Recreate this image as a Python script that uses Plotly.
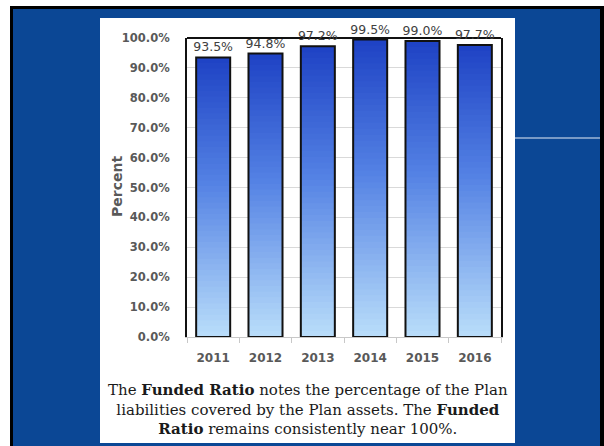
import plotly.graph_objects as go

years = ["2011", "2012", "2013", "2014", "2015", "2016"]
funded_ratio = [93.5, 94.8, 97.2, 99.5, 99.0, 97.7]
y_ticks = [0, 10, 20, 30, 40, 50, 60, 70, 80, 90, 100]
y_tick_labels = [f"{t:.1f}%" for t in y_ticks]

W, H = 604, 446
L, R, T, B = 187, 103, 38, 109
PW, PH = W - L - R, H - T - B

def px(x):
    return (x - L) / PW

def py(y):
    return (H - B - y) / PH

# vertical gradient (top -> bottom)
stops = [(0.0, (30, 66, 196)), (0.45, (84, 130, 228)), (1.0, (186, 222, 250))]

def grad(f):
    for (a, ca), (b, cb) in zip(stops[:-1], stops[1:]):
        if a <= f <= b:
            t = (f - a) / (b - a)
            c = [round(ca[i] + (cb[i] - ca[i]) * t) for i in range(3)]
            return f"rgb({c[0]},{c[1]},{c[2]})"
    return "rgb(186,222,250)"

N = 50
BW = 0.65
fig = go.Figure()
for k in range(N):
    top_frac = 1 - k / N
    fig.add_trace(go.Bar(
        x=years,
        y=[v * top_frac for v in funded_ratio],
        width=BW,
        marker=dict(color=grad((k + 0.5) / N), line=dict(width=0)),
        showlegend=False, hoverinfo="skip",
    ))

fig.add_trace(go.Bar(
    x=years, y=funded_ratio, width=BW,
    marker=dict(color="rgba(0,0,0,0)", line=dict(color="#111111", width=2)),
    text=[f"{v:.1f}%" for v in funded_ratio],
    textposition="outside", cliponaxis=False, constraintext="none",
    textfont=dict(family="DejaVu Sans", size=12.5, color="#404040"),
    showlegend=False,
))

shapes = [
    dict(type="rect", xref="paper", yref="paper", x0=px(10), x1=px(604), y0=py(446), y1=py(6),
         fillcolor="#000000", line=dict(width=0), layer="below"),
    dict(type="rect", xref="paper", yref="paper", x0=px(13), x1=px(600), y0=py(446), y1=py(9),
         fillcolor="#0b4795", line=dict(width=0), layer="below"),
    dict(type="rect", xref="paper", yref="paper", x0=px(100), x1=px(515), y0=py(443), y1=py(18),
         fillcolor="#ffffff", line=dict(width=0), layer="below"),
    dict(type="line", xref="paper", yref="paper", x0=px(515), x1=px(600), y0=py(138), y1=py(138),
         line=dict(color="#e8eef8", width=1.2)),
    dict(type="line", xref="paper", yref="paper", x0=0, x1=1, y0=1, y1=1,
         line=dict(color="#111111", width=2), layer="below"),
]

fig.update_layout(
    width=W, height=H,
    margin=dict(l=L, r=R, t=T, b=B),
    paper_bgcolor="#ffffff", plot_bgcolor="#ffffff",
    barmode="overlay",
    shapes=shapes,
    xaxis=dict(
        type="category", showline=True, linecolor="#c8c8c8", linewidth=1,
        ticks="outside", tickson="boundaries", ticklen=5, tickcolor="#c8c8c8",
        ticklabelstandoff=10,
        tickfont=dict(family="DejaVu Sans", size=12, color="#595959", weight="bold"),
        showgrid=False,
    ),
    yaxis=dict(
        range=[0, 100], tickvals=y_ticks, ticktext=y_tick_labels,
        showline=True, linecolor="#111111", linewidth=2, mirror=True,
        gridcolor="#d9d9d9", gridwidth=1, zeroline=False,
        ticks="", ticklabelstandoff=13,
        tickfont=dict(family="DejaVu Sans", size=11.5, color="#595959", weight="bold"),
    ),
    annotations=[
        dict(text="Percent", xref="paper", yref="paper", x=px(117), y=py(187),
             textangle=-90, showarrow=False, xanchor="center", yanchor="middle",
             font=dict(family="DejaVu Sans", size=14, color="#595959", weight="bold")),
        dict(text="The <b>Funded Ratio</b> notes the percentage of the Plan<br>"
                  "liabilities covered by the Plan assets. The <b>Funded</b><br>"
                  "<b>Ratio</b> remains consistently near 100%.",
             xref="paper", yref="paper", x=px(307.5), y=py(409),
             showarrow=False, xanchor="center", yanchor="middle", align="center",
             font=dict(family="DejaVu Serif", size=15, color="#1a1a1a")),
    ],
)

fig.write_html("out.html")
